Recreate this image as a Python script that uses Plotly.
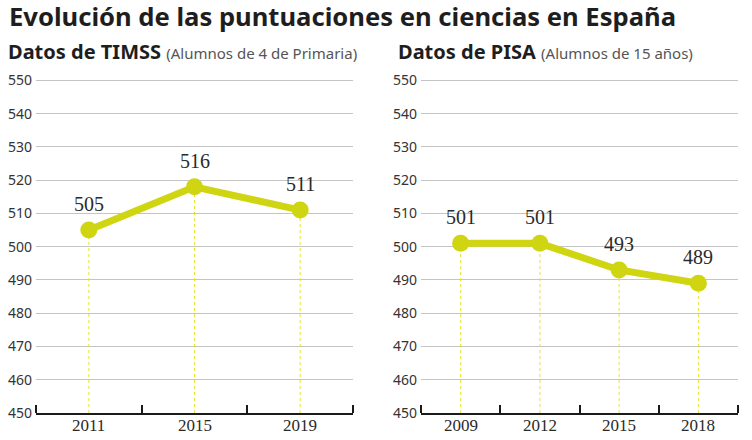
import plotly.graph_objects as go

# ---- data ----
timss_years = ["2011", "2015", "2019"]
timss_values = [505, 518, 511]          # plotted positions
timss_labels = ["505", "516", "511"]    # printed labels
pisa_years = ["2009", "2012", "2015", "2018"]
pisa_values = [501, 501, 493, 489]
pisa_labels = ["501", "501", "493", "489"]
y_ticks = [450, 460, 470, 480, 490, 500, 510, 520, 530, 540, 550]

W, H = 752, 440
LINE = "#d0d512"
DROP = "#e2e43c"
GRID = "#c4c4c4"
SANS = "Noto Sans"
SERIF = "Liberation Serif"

fig = go.Figure()
annotations = []

def add_series(years, values, labels, xa, ya):
    idx = list(range(len(years)))
    dx, dy = [], []
    for i, v in zip(idx, values):
        dx += [i, i, None]
        dy += [y_ticks[0], v, None]
    fig.add_trace(go.Scatter(x=dx, y=dy, mode="lines", xaxis=xa, yaxis=ya,
                             line=dict(color=DROP, width=1, dash="dot"),
                             hoverinfo="skip", showlegend=False))
    fig.add_trace(go.Scatter(x=idx, y=values, mode="lines+markers", xaxis=xa, yaxis=ya,
                             line=dict(color=LINE, width=7),
                             marker=dict(color=LINE, size=17),
                             showlegend=False))
    for i, v, t in zip(idx, values, labels):
        annotations.append(dict(x=i, y=v, xref=xa, yref=ya, text=t, showarrow=False,
                                yshift=26, font=dict(family=SERIF, size=20, color="#2a2a2a")))
    # year labels below the axis
    for i, yr in zip(idx, years):
        annotations.append(dict(x=i, y=y_ticks[0], xref=xa, yref=ya, text=yr, showarrow=False,
                                yanchor="middle", yshift=-12,
                                font=dict(family=SERIF, size=17, color="#2a2a2a")))

add_series(timss_years, timss_values, timss_labels, "x", "y")
add_series(pisa_years, pisa_values, pisa_labels, "x2", "y2")

annotations.append(dict(x=7 / W, y=1 - 16 / H, xref="paper", yref="paper", xanchor="left",
                        yanchor="middle", showarrow=False,
                        text="<b>Evolución de las puntuaciones en ciencias en España</b>",
                        font=dict(family=SANS, size=25.6, color="#1e1e1e")))
annotations.append(dict(x=6 / W, y=1 - 52 / H, xref="paper", yref="paper", xanchor="left",
                        yanchor="middle", showarrow=False,
                        text="<b>Datos de TIMSS</b> <span style='font-size:15px;color:#555'>(Alumnos de 4 de Primaria)</span>",
                        font=dict(family=SANS, size=20, color="#1e1e1e")))
annotations.append(dict(x=396 / W, y=1 - 52 / H, xref="paper", yref="paper", xanchor="left",
                        yanchor="middle", showarrow=False,
                        text="<b>Datos de PISA</b> <span style='font-size:15px;color:#555'>(Alumnos de 15 años)</span>",
                        font=dict(family=SANS, size=20, color="#1e1e1e")))

ydom = [1 - 413 / H, 1 - 79 / H]

def xaxis(dom, years, anchor):
    n = len(years)
    return dict(domain=dom, anchor=anchor, range=[-0.5, n - 0.5], showgrid=False,
                tickvals=list(range(n)), showticklabels=False, ticks="",
                minor=dict(tick0=-0.5, dtick=1, ticks="inside", ticklen=8, tickwidth=2,
                           tickcolor="#1a1a1a", showgrid=False),
                showline=True, linecolor="#1a1a1a", linewidth=2, automargin=False,
                zeroline=False, fixedrange=True)

def yaxis(anchor):
    return dict(domain=ydom, anchor=anchor, range=[450, 550.4], tickvals=y_ticks,
                showgrid=True, gridcolor=GRID, gridwidth=1.3, zeroline=False, showline=False,
                ticks="", ticklabelstandoff=3, automargin=False,
                tickfont=dict(family=SANS, size=14, color="#333"), fixedrange=True)

fig.update_layout(
    width=W, height=H, margin=dict(l=0, r=0, t=0, b=0, autoexpand=False),
    paper_bgcolor="white", plot_bgcolor="white",
    xaxis=xaxis([36 / W, 353 / W], timss_years, "y"),
    xaxis2=xaxis([421 / W, 738 / W], pisa_years, "y2"),
    yaxis=yaxis("x"),
    yaxis2=yaxis("x2"),
    annotations=annotations,
)

fig.write_html("out.html")
